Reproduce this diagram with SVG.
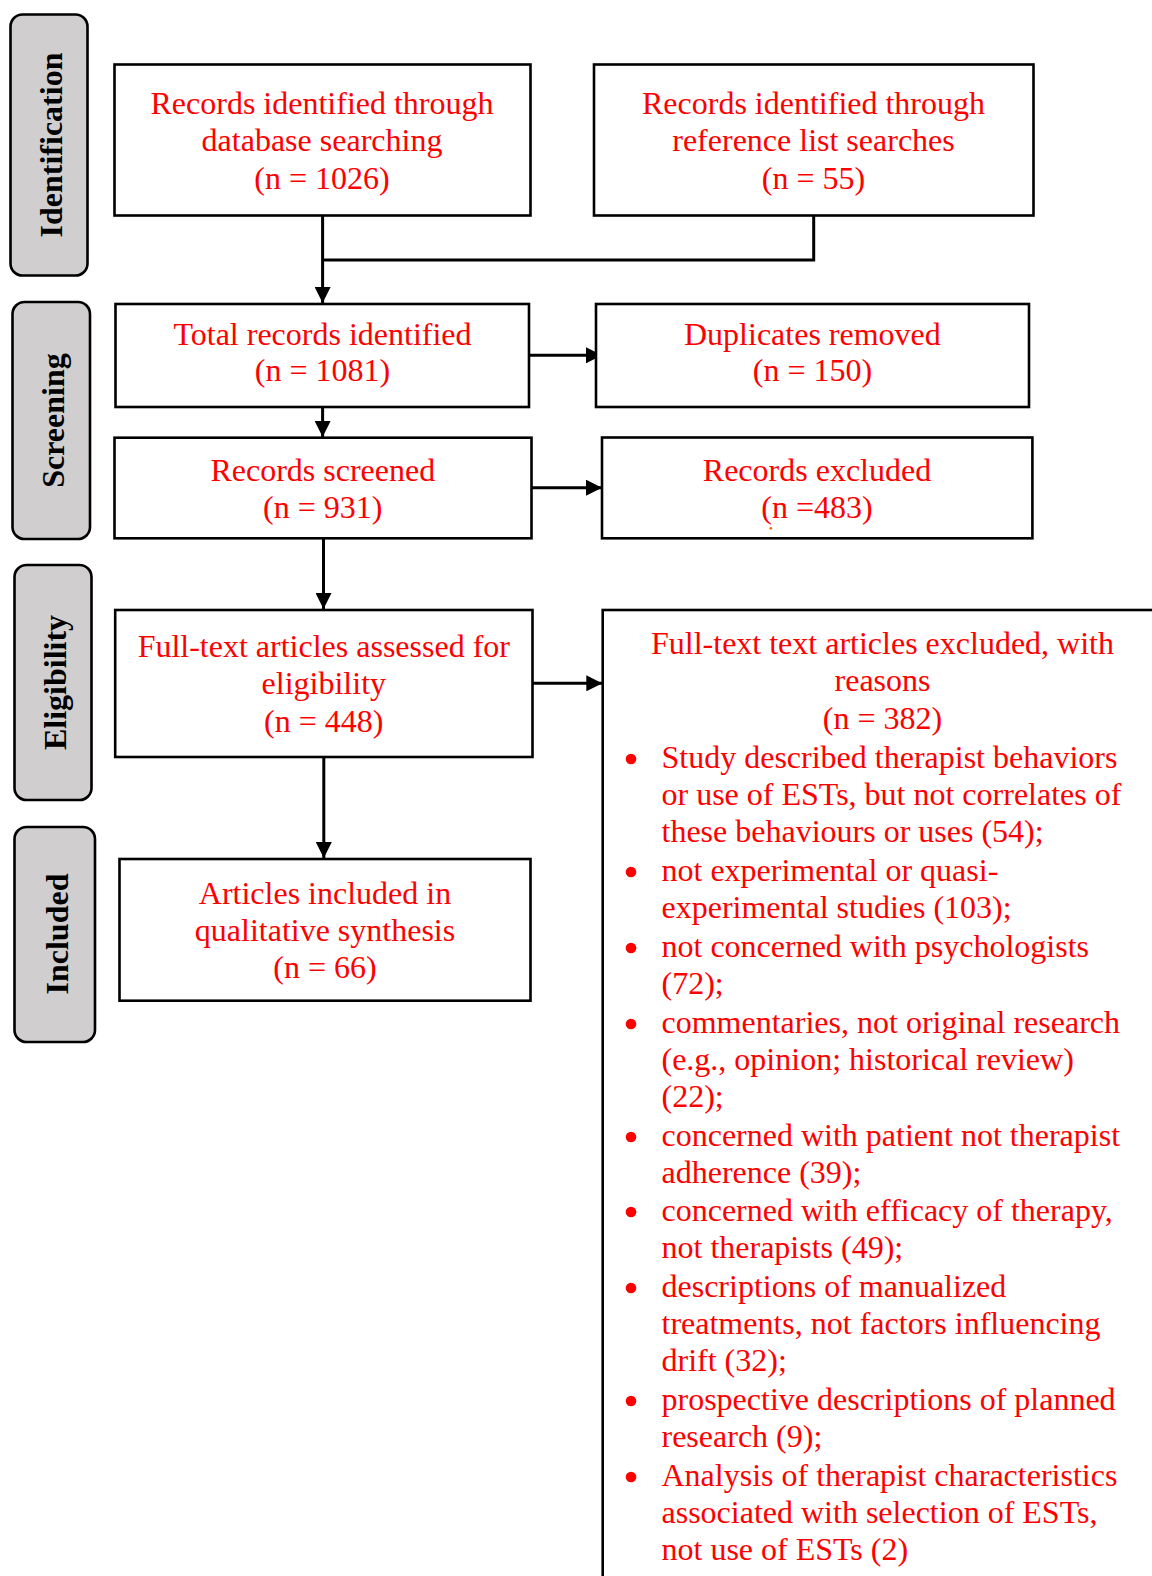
<svg xmlns="http://www.w3.org/2000/svg" width="1152" height="1576" viewBox="0 0 1152 1576">
<defs>
<style>
.box{fill:#fff;stroke:#000;stroke-width:2.6}
.pill{fill:#d0cece;stroke:#000;stroke-width:2.6}
.t{font-family:"Liberation Serif","Times New Roman",serif;font-size:32px;fill:#ff0000}
.c{text-anchor:middle}
.lab{font-family:"Liberation Serif","Times New Roman",serif;font-size:32px;font-weight:bold;fill:#000;text-anchor:middle}
.ln{fill:none;stroke:#000;stroke-width:3}
.bul{fill:#ff0000}
</style>
<marker id="ah" viewBox="0 0 16 16" refX="16" refY="8" markerWidth="16" markerHeight="16" markerUnits="userSpaceOnUse" orient="auto">
<path d="M0,0 L16,8 L0,16 z" fill="#000"/>
</marker>
</defs>
<rect width="1152" height="1576" fill="#fff"/>

<g id="stage-identification">
<rect class="pill" x="10.5" y="14.5" width="77" height="261" rx="12"/>
<text class="lab" transform="translate(61.5,145) rotate(-90)">Identification</text>
</g>
<g id="stage-screening">
<rect class="pill" x="12.5" y="302" width="77.5" height="237" rx="12"/>
<text class="lab" transform="translate(64,420.5) rotate(-90)">Screening</text>
</g>
<g id="stage-eligibility">
<rect class="pill" x="14.5" y="565" width="77" height="235" rx="12"/>
<text class="lab" transform="translate(66,682.5) rotate(-90)">Eligibility</text>
</g>
<g id="stage-included">
<rect class="pill" x="14.5" y="827" width="80.5" height="215" rx="12"/>
<text class="lab" transform="translate(68,934) rotate(-90)">Included</text>
</g>

<g id="connectors">
<path class="ln" d="M322.6,216 V303" marker-end="url(#ah)"/>
<path class="ln" d="M813.7,216 V260 H322.6"/>
<path class="ln" d="M529,355.3 H602" marker-end="url(#ah)"/>
<path class="ln" d="M322.6,407 V437" marker-end="url(#ah)"/>
<path class="ln" d="M531,487.7 H602" marker-end="url(#ah)"/>
<path class="ln" d="M323.5,538.5 V609" marker-end="url(#ah)"/>
<path class="ln" d="M532.5,683.3 H602.3" marker-end="url(#ah)"/>
<path class="ln" d="M323.8,757 V858" marker-end="url(#ah)"/>
</g>

<g id="node-db">
<rect class="box" x="114.5" y="64.5" width="416" height="151"/>
<text class="t c" x="322" y="114">Records identified through</text>
<text class="t c" x="322" y="151">database searching</text>
<text class="t c" x="322" y="188.5">(n = 1026)</text>
</g>
<g id="node-ref">
<rect class="box" x="594" y="64.5" width="439.5" height="151"/>
<text class="t c" x="813.5" y="114">Records identified through</text>
<text class="t c" x="813.5" y="151">reference list searches</text>
<text class="t c" x="813.5" y="188.5">(n = 55)</text>
</g>
<g id="node-total">
<rect class="box" x="115.5" y="304" width="413.5" height="103"/>
<text class="t c" x="322.5" y="344.5">Total records identified</text>
<text class="t c" x="322.5" y="381.2">(n = 1081)</text>
</g>
<g id="node-dup">
<rect class="box" x="596" y="304" width="433" height="103"/>
<text class="t c" x="812.4" y="344.5">Duplicates removed</text>
<text class="t c" x="812.4" y="381.2">(n = 150)</text>
</g>
<g id="node-screened">
<rect class="box" x="114.5" y="437.7" width="417" height="100.6"/>
<text class="t c" x="322.8" y="480.5">Records screened</text>
<text class="t c" x="322.8" y="517.8">(n = 931)</text>
</g>
<g id="node-excluded">
<rect class="box" x="602" y="437.5" width="430.4" height="100.8"/>
<text class="t c" x="817" y="480.5">Records excluded</text>
<text class="t c" x="817" y="517.8">(n =483)</text>
<circle cx="770.8" cy="528.3" r="1.4" fill="#ff6a00"/>
</g>
<g id="node-fulltext">
<rect class="box" x="115.2" y="610" width="417.3" height="147"/>
<text class="t c" x="323.8" y="657.2">Full-text articles assessed for</text>
<text class="t c" x="323.8" y="694.3">eligibility</text>
<text class="t c" x="323.8" y="731.7">(n = 448)</text>
</g>
<g id="node-included">
<rect class="box" x="119.5" y="859" width="411" height="141.7"/>
<text class="t c" x="325" y="904">Articles included in</text>
<text class="t c" x="325" y="941">qualitative synthesis</text>
<text class="t c" x="325" y="978">(n = 66)</text>
</g>
<g id="node-ft-excluded">
<rect class="box" x="602.7" y="610" width="600" height="1000"/>
<text class="t c" x="882.5" y="654">Full-text text articles excluded, with</text>
<text class="t c" x="882.5" y="691.2">reasons</text>
<text class="t c" x="882.5" y="728.5">(n = 382)</text>
<circle class="bul" cx="631" cy="759" r="5.3"/>
<text class="t" x="661.5" y="767.5">Study described therapist behaviors</text>
<text class="t" x="661.5" y="804.5">or use of ESTs, but not correlates of</text>
<text class="t" x="661.5" y="841.5">these behaviours or uses (54);</text>
<circle class="bul" cx="631" cy="872" r="5.3"/>
<text class="t" x="661.5" y="880.5">not experimental or quasi-</text>
<text class="t" x="661.5" y="917.5">experimental studies (103);</text>
<circle class="bul" cx="631" cy="948" r="5.3"/>
<text class="t" x="661.5" y="956.5">not concerned with psychologists</text>
<text class="t" x="661.5" y="993.5">(72);</text>
<circle class="bul" cx="631" cy="1024" r="5.3"/>
<text class="t" x="661.5" y="1032.5">commentaries, not original research</text>
<text class="t" x="661.5" y="1069.5">(e.g., opinion; historical review)</text>
<text class="t" x="661.5" y="1106.5">(22);</text>
<circle class="bul" cx="631" cy="1137" r="5.3"/>
<text class="t" x="661.5" y="1145.5">concerned with patient not therapist</text>
<text class="t" x="661.5" y="1182.5">adherence (39);</text>
<circle class="bul" cx="631" cy="1212" r="5.3"/>
<text class="t" x="661.5" y="1220.5">concerned with efficacy of therapy,</text>
<text class="t" x="661.5" y="1257.5">not therapists (49);</text>
<circle class="bul" cx="631" cy="1288" r="5.3"/>
<text class="t" x="661.5" y="1296.5">descriptions of manualized</text>
<text class="t" x="661.5" y="1333.5">treatments, not factors influencing</text>
<text class="t" x="661.5" y="1370.5">drift (32);</text>
<circle class="bul" cx="631" cy="1401" r="5.3"/>
<text class="t" x="661.5" y="1409.5">prospective descriptions of planned</text>
<text class="t" x="661.5" y="1446.5">research (9);</text>
<circle class="bul" cx="631" cy="1477" r="5.3"/>
<text class="t" x="661.5" y="1485.5">Analysis of therapist characteristics</text>
<text class="t" x="661.5" y="1522.5">associated with selection of ESTs,</text>
<text class="t" x="661.5" y="1560">not use of ESTs (2)</text>
</g>
</svg>
